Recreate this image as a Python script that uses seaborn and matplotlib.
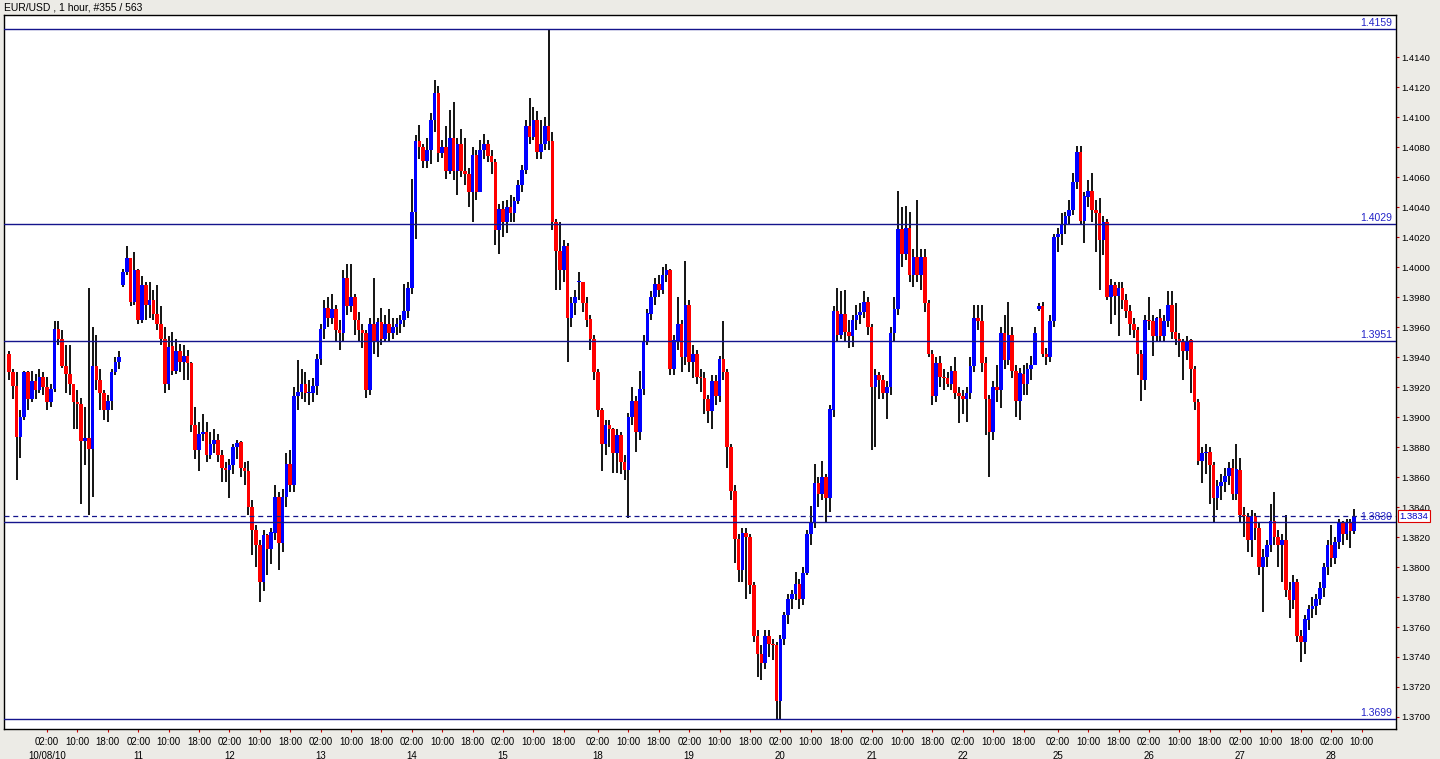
import numpy as np
import pandas as pd
import matplotlib
matplotlib.use("Agg")
import matplotlib.pyplot as plt
import matplotlib.transforms as mtransforms
import seaborn as sns

# ---------------- data (EUR/USD, 1 hour) ----------------
# trading sessions (hourly bars, weekend gaps removed)
sessions = [("2010-10-07 16:00", "2010-10-08 21:00"),
            ("2010-10-10 22:00", "2010-10-15 21:00"),
            ("2010-10-17 21:00", "2010-10-22 21:00"),
            ("2010-10-24 21:00", "2010-10-28 08:00")]

closes = [
    1.3930, 1.3921, 1.3887, 1.3900, 1.3930, 1.3912, 1.3924, 1.3918, 1.3927, 1.3920,
    1.3910, 1.3919, 1.3959, 1.3952, 1.3934, 1.3929, 1.3922, 1.3910, 1.3909, 1.3884,
    1.3886, 1.3879, 1.3934, 1.3925, 1.3916, 1.3905, 1.3911, 1.3930, 1.3937, 1.3940,
    1.3997, 1.4006, 1.3977, 1.3998, 1.3965, 1.3988, 1.3975, 1.3978, 1.3969, 1.3962,
    1.3952, 1.3922, 1.3947, 1.3931, 1.3944, 1.3937, 1.3941, 1.3936, 1.3895, 1.3878,
    1.3889, 1.3890, 1.3875, 1.3882, 1.3885, 1.3875, 1.3866, 1.3865, 1.3868, 1.3880,
    1.3883, 1.3866, 1.3864, 1.3840, 1.3825, 1.3815, 1.3790, 1.3821, 1.3812, 1.3823,
    1.3847, 1.3816, 1.3847, 1.3869, 1.3855, 1.3914, 1.3917, 1.3922, 1.3916, 1.3916,
    1.3921, 1.3939, 1.3959, 1.3973, 1.3966, 1.3972, 1.3958, 1.3956, 1.3993, 1.3974,
    1.3980, 1.3965, 1.3958, 1.3956, 1.3918, 1.3962, 1.3950, 1.3963, 1.3952, 1.3962,
    1.3956, 1.3960, 1.3962, 1.3965, 1.3971, 1.3986, 1.4037, 1.4084, 1.4080, 1.4071,
    1.4078, 1.4098, 1.4116, 1.4076, 1.4080, 1.4064, 1.4086, 1.4064, 1.4082, 1.4064,
    1.4062, 1.4050, 1.4075, 1.4050, 1.4078, 1.4082, 1.4074, 1.4070, 1.4025, 1.4039,
    1.4030, 1.4040, 1.4036, 1.4044, 1.4055, 1.4065, 1.4094, 1.4087, 1.4098, 1.4077,
    1.4082, 1.4094, 1.4084, 1.4030, 1.4011, 1.3998, 1.4014, 1.3966, 1.3976, 1.3980,
    1.3990, 1.3976, 1.3965, 1.3952, 1.3930, 1.3905, 1.3882, 1.3895, 1.3892, 1.3876,
    1.3888, 1.3870, 1.3865, 1.3900, 1.3911, 1.3890, 1.3919, 1.3951, 1.3969, 1.3980,
    1.3989, 1.3985, 1.3995, 1.3998, 1.3932, 1.3951, 1.3962, 1.3940, 1.3975, 1.3937,
    1.3942, 1.3927, 1.3926, 1.3912, 1.3904, 1.3924, 1.3914, 1.3939, 1.3930, 1.3880,
    1.3851, 1.3819, 1.3798, 1.3823, 1.3820, 1.3788, 1.3754, 1.3742, 1.3736, 1.3754,
    1.3749, 1.3748, 1.3711, 1.3752, 1.3768, 1.3779, 1.3782, 1.3789, 1.3779, 1.3796,
    1.3822, 1.3830, 1.3856, 1.3849, 1.3860, 1.3846, 1.3905, 1.3971, 1.3955, 1.3969,
    1.3957, 1.3954, 1.3965, 1.3968, 1.3970, 1.3977, 1.3960, 1.3920, 1.3928, 1.3925,
    1.3916, 1.3920, 1.3956, 1.3972, 1.4025, 1.4009, 1.4026, 1.3995, 1.4007, 1.3995,
    1.4007, 1.3976, 1.3942, 1.3914, 1.3936, 1.3927, 1.3926, 1.3922, 1.3931, 1.3916,
    1.3914, 1.3912, 1.3916, 1.3934, 1.3966, 1.3964, 1.3936, 1.3912, 1.3890, 1.3920,
    1.3918, 1.3956, 1.3938, 1.3955, 1.3931, 1.3911, 1.3929, 1.3922, 1.3932, 1.3935,
    1.3956, 1.3974, 1.3942, 1.3940, 1.3964, 1.4020, 1.4022, 1.4028, 1.4034, 1.4038,
    1.4057, 1.4077, 1.4031, 1.4047, 1.4051, 1.4038, 1.4036, 1.4018, 1.4030, 1.3980,
    1.3988, 1.3981, 1.3986, 1.3978, 1.3971, 1.3962, 1.3958, 1.3942, 1.3925, 1.3965,
    1.3964, 1.3954, 1.3966, 1.3954, 1.3964, 1.3975, 1.3957, 1.3952, 1.3951, 1.3944,
    1.3951, 1.3932, 1.3910, 1.3871, 1.3876, 1.3877, 1.3868, 1.3846, 1.3854, 1.3857,
    1.3861, 1.3866, 1.3849, 1.3865, 1.3835, 1.3834, 1.3818, 1.3834, 1.3826, 1.3800,
    1.3807, 1.3815, 1.3831, 1.3820, 1.3815, 1.3818, 1.3785, 1.3778, 1.3790, 1.3754,
    1.3750, 1.3765, 1.3772, 1.3774, 1.3779, 1.3786, 1.3800, 1.3815, 1.3806, 1.3817,
    1.3830, 1.3822, 1.3830, 1.3824, 1.3834]

highs = [
    1.3944, 1.3932, 1.3930, 1.3905, 1.3931, 1.3931, 1.3931, 1.3929, 1.3932, 1.3930,
    1.3927, 1.3922, 1.3964, 1.3964, 1.3958, 1.3948, 1.3948, 1.3922, 1.3918, 1.3913,
    1.3907, 1.3986, 1.3960, 1.3955, 1.3932, 1.3918, 1.3915, 1.3932, 1.3940, 1.3944,
    1.3999, 1.4014, 1.4006, 1.4010, 1.3999, 1.3994, 1.3990, 1.3990, 1.3985, 1.3988,
    1.3974, 1.3960, 1.3954, 1.3957, 1.3952, 1.3949, 1.3948, 1.3945, 1.3937, 1.3907,
    1.3897, 1.3902, 1.3897, 1.3890, 1.3892, 1.3889, 1.3878, 1.3870, 1.3872, 1.3882,
    1.3885, 1.3884, 1.3870, 1.3871, 1.3845, 1.3828, 1.3818, 1.3825, 1.3822, 1.3826,
    1.3855, 1.3850, 1.3852, 1.3876, 1.3878, 1.3920, 1.3938, 1.3932, 1.3930, 1.3925,
    1.3926, 1.3942, 1.3962, 1.3978, 1.3980, 1.3982, 1.3975, 1.3965, 1.3998, 1.4002,
    1.4002, 1.3982, 1.3970, 1.3962, 1.3958, 1.3966, 1.3993, 1.3966, 1.3973, 1.3968,
    1.3972, 1.3966, 1.3966, 1.3968, 1.3989, 1.3990, 1.4059, 1.4088, 1.4095, 1.4082,
    1.4086, 1.4103, 1.4125, 1.4121, 1.4085, 1.4094, 1.4105, 1.4110, 1.4086, 1.4092,
    1.4086, 1.4066, 1.4080, 1.4078, 1.4085, 1.4089, 1.4085, 1.4078, 1.4072, 1.4042,
    1.4044, 1.4045, 1.4048, 1.4047, 1.4058, 1.4068, 1.4098, 1.4113, 1.4107, 1.4104,
    1.4098, 1.4100, 1.4159, 1.4090, 1.4032, 1.4030, 1.4018, 1.4016, 1.3980, 1.3985,
    1.3997, 1.3990, 1.3980, 1.3968, 1.3955, 1.3932, 1.3906, 1.3898, 1.3898, 1.3893,
    1.3892, 1.3890, 1.3875, 1.3903, 1.3920, 1.3914, 1.3931, 1.3955, 1.3972, 1.3984,
    1.3993, 1.3995, 1.4000, 1.4002, 1.3999, 1.3955, 1.3980, 1.3965, 1.4004, 1.3978,
    1.3948, 1.3945, 1.3932, 1.3930, 1.3915, 1.3928, 1.3928, 1.3941, 1.3964, 1.3932,
    1.3882, 1.3855, 1.3822, 1.3826, 1.3826, 1.3822, 1.3790, 1.3758, 1.3748, 1.3758,
    1.3758, 1.3752, 1.3750, 1.3755, 1.3770, 1.3782, 1.3785, 1.3797, 1.3792, 1.3800,
    1.3825, 1.3841, 1.3869, 1.3860, 1.3871, 1.3862, 1.3908, 1.3974, 1.3986, 1.3984,
    1.3985, 1.3965, 1.3968, 1.3975, 1.3976, 1.3984, 1.3980, 1.3962, 1.3932, 1.3930,
    1.3928, 1.3924, 1.3960, 1.3980, 1.4051, 1.4040, 1.4041, 1.4037, 1.4012, 1.4045,
    1.4012, 1.4012, 1.3978, 1.3945, 1.3940, 1.3941, 1.3932, 1.3930, 1.3934, 1.3940,
    1.3920, 1.3918, 1.3920, 1.3940, 1.3975, 1.3975, 1.3975, 1.3940, 1.3915, 1.3924,
    1.3935, 1.3960, 1.3968, 1.3977, 1.3960, 1.3935, 1.3933, 1.3935, 1.3936, 1.3941,
    1.3960, 1.3976, 1.3977, 1.3946, 1.3968, 1.4022, 1.4026, 1.4036, 1.4037, 1.4045,
    1.4063, 1.4081, 1.4081, 1.4050, 1.4058, 1.4063, 1.4045, 1.4046, 1.4034, 1.4032,
    1.3992, 1.3990, 1.3990, 1.3990, 1.3982, 1.3975, 1.3966, 1.3960, 1.3945, 1.3968,
    1.3980, 1.3968, 1.3967, 1.3972, 1.3968, 1.3984, 1.3984, 1.3976, 1.3956, 1.3952,
    1.3954, 1.3952, 1.3934, 1.3912, 1.3880, 1.3882, 1.3880, 1.3870, 1.3858, 1.3862,
    1.3866, 1.3870, 1.3872, 1.3882, 1.3873, 1.3840, 1.3836, 1.3838, 1.3836, 1.3830,
    1.3812, 1.3818, 1.3842, 1.3850, 1.3825, 1.3822, 1.3835, 1.3790, 1.3795, 1.3792,
    1.3758, 1.3768, 1.3775, 1.3780, 1.3782, 1.3790, 1.3803, 1.3818, 1.3828, 1.3820,
    1.3832, 1.3831, 1.3832, 1.3832, 1.3839]

lows = [
    1.3925, 1.3912, 1.3858, 1.3873, 1.3898, 1.3905, 1.3910, 1.3912, 1.3916, 1.3915,
    1.3905, 1.3907, 1.3917, 1.3948, 1.3933, 1.3916, 1.3915, 1.3892, 1.3892, 1.3842,
    1.3868, 1.3835, 1.3847, 1.3918, 1.3905, 1.3898, 1.3897, 1.3905, 1.3928, 1.3932,
    1.3987, 1.3995, 1.3974, 1.3975, 1.3962, 1.3963, 1.3965, 1.3966, 1.3965, 1.3958,
    1.3948, 1.3916, 1.3918, 1.3928, 1.3929, 1.3930, 1.3925, 1.3925, 1.3890, 1.3872,
    1.3864, 1.3884, 1.3870, 1.3872, 1.3876, 1.3870, 1.3857, 1.3857, 1.3846, 1.3862,
    1.3872, 1.3860, 1.3855, 1.3835, 1.3808, 1.3800, 1.3777, 1.3784, 1.3795, 1.3802,
    1.3818, 1.3798, 1.3810, 1.3840, 1.3850, 1.3850, 1.3905, 1.3912, 1.3910, 1.3908,
    1.3910, 1.3915, 1.3935, 1.3952, 1.3960, 1.3962, 1.3950, 1.3945, 1.3950, 1.3968,
    1.3970, 1.3955, 1.3950, 1.3946, 1.3913, 1.3915, 1.3942, 1.3940, 1.3948, 1.3950,
    1.3950, 1.3952, 1.3955, 1.3956, 1.3960, 1.3966, 1.3982, 1.4019, 1.4072, 1.4066,
    1.4066, 1.4069, 1.4090, 1.4070, 1.4073, 1.4059, 1.4062, 1.4058, 1.4048, 1.4060,
    1.4055, 1.4040, 1.4030, 1.4045, 1.4050, 1.4072, 1.4070, 1.4062, 1.4015, 1.4009,
    1.4020, 1.4023, 1.4030, 1.4030, 1.4042, 1.4050, 1.4062, 1.4082, 1.4085, 1.4072,
    1.4072, 1.4078, 1.4078, 1.4025, 1.3985, 1.3985, 1.3990, 1.3937, 1.3960, 1.3968,
    1.3978, 1.3970, 1.3960, 1.3945, 1.3925, 1.3900, 1.3864, 1.3875, 1.3880, 1.3863,
    1.3863, 1.3862, 1.3858, 1.3833, 1.3895, 1.3877, 1.3885, 1.3915, 1.3948, 1.3965,
    1.3975, 1.3980, 1.3982, 1.3990, 1.3928, 1.3928, 1.3945, 1.3930, 1.3935, 1.3930,
    1.3926, 1.3922, 1.3917, 1.3902, 1.3896, 1.3892, 1.3908, 1.3910, 1.3925, 1.3866,
    1.3845, 1.3803, 1.3790, 1.3790, 1.3779, 1.3782, 1.3750, 1.3727, 1.3725, 1.3732,
    1.3740, 1.3738, 1.3699, 1.3699, 1.3748, 1.3762, 1.3772, 1.3778, 1.3772, 1.3775,
    1.3795, 1.3815, 1.3826, 1.3840, 1.3845, 1.3830, 1.3837, 1.3900, 1.3950, 1.3952,
    1.3950, 1.3946, 1.3947, 1.3958, 1.3962, 1.3966, 1.3955, 1.3878, 1.3880, 1.3912,
    1.3912, 1.3899, 1.3915, 1.3950, 1.3968, 1.4000, 1.4005, 1.3990, 1.3987, 1.3990,
    1.3985, 1.3970, 1.3940, 1.3908, 1.3910, 1.3920, 1.3918, 1.3920, 1.3918, 1.3912,
    1.3896, 1.3902, 1.3897, 1.3912, 1.3930, 1.3958, 1.3930, 1.3888, 1.3860, 1.3885,
    1.3910, 1.3906, 1.3932, 1.3935, 1.3926, 1.3900, 1.3898, 1.3915, 1.3915, 1.3925,
    1.3935, 1.3971, 1.3940, 1.3935, 1.3937, 1.3960, 1.4010, 1.4015, 1.4022, 1.4028,
    1.4035, 1.4052, 1.4028, 1.4016, 1.4040, 1.4030, 1.4010, 1.3985, 1.4008, 1.3978,
    1.3962, 1.3968, 1.3954, 1.3972, 1.3966, 1.3955, 1.3953, 1.3928, 1.3911, 1.3918,
    1.3958, 1.3941, 1.3950, 1.3950, 1.3950, 1.3960, 1.3952, 1.3948, 1.3940, 1.3925,
    1.3938, 1.3916, 1.3905, 1.3868, 1.3856, 1.3862, 1.3842, 1.3830, 1.3838, 1.3845,
    1.3850, 1.3855, 1.3845, 1.3845, 1.3830, 1.3820, 1.3810, 1.3807, 1.3818, 1.3795,
    1.3770, 1.3800, 1.3810, 1.3815, 1.3800, 1.3790, 1.3780, 1.3766, 1.3772, 1.3750,
    1.3737, 1.3742, 1.3758, 1.3766, 1.3768, 1.3775, 1.3780, 1.3795, 1.3800, 1.3802,
    1.3812, 1.3815, 1.3818, 1.3813, 1.3822]

# opening prices of each session (first bar); other bars open at previous close
session_opens = [1.3942, 1.3988, 1.3990, 1.3972]

levels = [1.4159, 1.4029, 1.3951, 1.3830, 1.3699]
bid_price = 1.3834
price_ticks = [1.3700, 1.3720, 1.3740, 1.3760, 1.3780, 1.3800, 1.3820, 1.3840,
               1.3860, 1.3880, 1.3900, 1.3920, 1.3940, 1.3960, 1.3980, 1.4000,
               1.4020, 1.4040, 1.4060, 1.4080, 1.4100, 1.4120, 1.4140]
time_tick_hours = [2, 10, 18]
first_tick_time = "2010-10-08 02:00"
title = "EUR/USD , 1 hour, #355 / 563"

# ---------------- build frame ----------------
parts = [pd.date_range(s, e, freq="h") for s, e in sessions]
times = pd.DatetimeIndex(np.concatenate([p.values for p in parts]))
df = pd.DataFrame({"time": times, "close": closes, "high": highs, "low": lows})
opens = np.r_[np.nan, np.array(closes[:-1])]
start = 0
for p, so in zip(parts, session_opens):
    opens[start] = so
    start += len(p)
df["open"] = opens
df["x"] = np.arange(len(df))
df["high"] = np.maximum(df["high"], np.maximum(df["open"], df["close"]))
df["low"] = np.minimum(df["low"], np.minimum(df["open"], df["close"]))

# time axis extended past the last bar (chart shift area)
ext_times = pd.date_range(times[-1] + pd.Timedelta(hours=1), periods=12, freq="h")
axis_t = pd.DataFrame({"time": np.r_[times.values, ext_times.values]})
axis_t["x"] = np.arange(len(axis_t))

# ---------------- style ----------------
sns.set_theme(style="white")
plt.rcParams["font.family"] = ["Liberation Sans", "DejaVu Sans"]

BG = "#ECEBE6"
NAVY = "#14148C"
LBL = "#2222C8"

fig = plt.figure(figsize=(14.4, 7.59), dpi=100, facecolor=BG)
ax = fig.add_axes([4 / 1440, 30 / 759, 1392 / 1440, 714 / 759])
ax.set_facecolor("white")

# wicks
ax.vlines(df["x"], df["low"], df["high"], color="black", lw=1.3, zorder=2)
# bodies
up = df["close"] >= df["open"]
for mask, col in [(up, "#0000FF"), (~up, "#FF0000")]:
    d = df[mask]
    h = np.maximum((d["close"] - d["open"]).abs(), 0.00008)
    ax.bar(d["x"], h, bottom=np.minimum(d["open"], d["close"]), width=0.9,
           color=col, edgecolor="none", linewidth=0, zorder=3)

# level lines
ax.set_xlim(-1.316, 365.0)
ax.set_ylim(1.3692, 1.4168)
tr_lbl = mtransforms.blended_transform_factory(ax.transAxes, ax.transData)
for lv in levels:
    ax.axhline(lv, color=NAVY, lw=1.0, zorder=4)
    ax.text(0.9975, lv + 0.00002, f"{lv:.4f}", transform=tr_lbl, ha="right",
            va="bottom", color=LBL, fontsize=7.5, zorder=5)
ax.axhline(bid_price, color=NAVY, lw=0.9, ls=(0, (4, 3)), zorder=4)

# y axis on the right
ax.yaxis.tick_right()
ax.set_yticks(price_ticks)
ax.set_yticklabels([f"{v:.4f}" for v in price_ticks])
ax.tick_params(axis="y", which="major", direction="out", length=2.5, width=0.8,
               color="#CC0000", pad=1.5, labelsize=6.8, labelcolor="black",
               right=True, left=False)
ax.text(1.0025, bid_price, f"{bid_price:.4f}", transform=tr_lbl, ha="left",
        va="center", color="#0000C8", fontsize=6.8, zorder=6, clip_on=False,
        bbox=dict(boxstyle="square,pad=0.2", facecolor="white",
                  edgecolor="#DD0000", linewidth=0.8))

# x axis: 02:00 / 10:00 / 18:00 and dates
tick_mask = (axis_t["time"].dt.hour.isin(time_tick_hours)
             & (axis_t["time"] >= pd.Timestamp(first_tick_time))
             & (axis_t["x"] < 364))
ax.set_xticks(axis_t.loc[tick_mask, "x"])
ax.set_xticklabels(axis_t.loc[tick_mask, "time"].dt.strftime("%H:%M"))
ax.tick_params(axis="x", direction="out", length=2.5, width=0.8,
               color="#CC0000", pad=3, labelsize=7, labelcolor="black",
               bottom=True)
tr_date = mtransforms.blended_transform_factory(ax.transData, ax.transAxes)
day_rows = df[df["time"].dt.hour == 2]
for k, (_, r) in enumerate(day_rows.iterrows()):
    lab = r["time"].strftime("%m/%d/%y") if k == 0 else r["time"].strftime("%d")
    ax.text(r["x"], -0.0375, lab, transform=tr_date, ha="center", va="center",
            fontsize=7, color="black", clip_on=False)

for s in ax.spines.values():
    s.set_color("black")
    s.set_linewidth(1.0)
ax.grid(False)

fig.text(4 / 1440, 1 - 3 / 759, title, ha="left", va="top", fontsize=7.5,
         color="black")

fig.savefig("out.png", dpi=100, facecolor=BG)
